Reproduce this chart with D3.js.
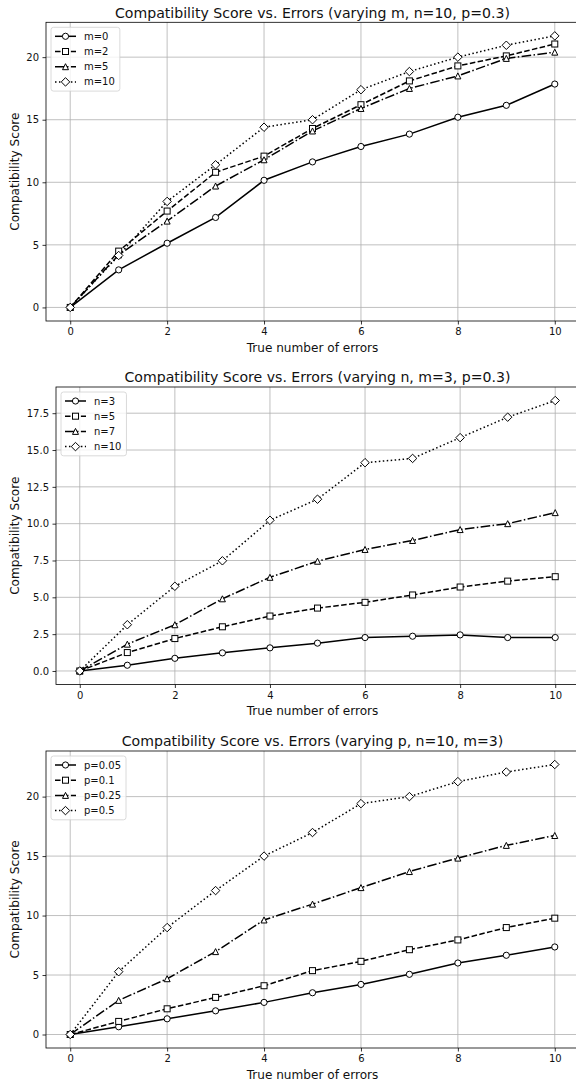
<!DOCTYPE html>
<html>
<head>
<meta charset="utf-8">
<script src="https://cdn.jsdelivr.net/npm/d3@7"></script>
<style>
  html, body { margin: 0; padding: 0; background: #fff; }
  svg { display: block; font-family: "DejaVu Sans", sans-serif; }
</style>
</head>
<body>
<svg id="chart" width="576" height="1082"></svg>
<script>
// ---------- data ----------
const errors = [0, 1, 2, 3, 4, 5, 6, 7, 8, 9, 10];

const titles = [
  "Compatibility Score vs. Errors (varying m, n=10, p=0.3)",
  "Compatibility Score vs. Errors (varying n, m=3, p=0.3)",
  "Compatibility Score vs. Errors (varying p, n=10, m=3)"
];
const xLabel = "True number of errors";
const yLabel = "Compatibility Score";
const xTicks = [0, 2, 4, 6, 8, 10];

// panel 1: varying m
const mLabels = ["m=0", "m=2", "m=5", "m=10"];
const m0  = [0, 3.0, 5.13, 7.19, 10.16, 11.63, 12.86, 13.85, 15.2, 16.15, 17.85];
const m2  = [0, 4.5, 7.7, 10.8, 12.09, 14.3, 16.2, 18.1, 19.3, 20.1, 21.05];
const m5  = [0, 4.2, 6.9, 9.7, 11.8, 14.1, 15.9, 17.5, 18.5, 19.9, 20.4];
const m10 = [0, 4.15, 8.47, 11.4, 14.4, 15.0, 17.4, 18.85, 20.0, 20.95, 21.7];
const yTicks1 = [0, 5, 10, 15, 20];

// panel 2: varying n
const nLabels = ["n=3", "n=5", "n=7", "n=10"];
const n3  = [0, 0.39, 0.86, 1.23, 1.57, 1.89, 2.27, 2.36, 2.45, 2.27, 2.27];
const n5  = [0, 1.25, 2.2, 3.0, 3.73, 4.27, 4.66, 5.16, 5.7, 6.1, 6.4];
const n7  = [0, 1.82, 3.14, 4.9, 6.36, 7.45, 8.25, 8.86, 9.6, 10.0, 10.75];
const n10 = [0, 3.14, 5.75, 7.48, 10.23, 11.66, 14.14, 14.43, 15.84, 17.23, 18.36];
const yTicks2 = [0, 2.5, 5, 7.5, 10, 12.5, 15, 17.5];

// panel 3: varying p
const pLabels = ["p=0.05", "p=0.1", "p=0.25", "p=0.5"];
const p005 = [0, 0.65, 1.32, 1.99, 2.7, 3.51, 4.21, 5.06, 6.01, 6.66, 7.36];
const p01  = [0, 1.1, 2.16, 3.12, 4.1, 5.37, 6.15, 7.13, 7.95, 8.99, 9.78];
const p025 = [0, 2.87, 4.69, 6.97, 9.63, 10.96, 12.35, 13.7, 14.83, 15.9, 16.73];
const p05  = [0, 5.28, 8.99, 12.1, 15.0, 16.98, 19.41, 20.0, 21.26, 22.07, 22.7];
const yTicks3 = [0, 5, 10, 15, 20];

// ---------- styling (not data) ----------
const markers = ["circle", "square", "triangle", "diamond"];
const dashes = [null, "5.55,2.4", "9.6,2.4,1.5,2.4", "1.5,2.475"];

const panels = [
  { title: titles[0], labels: mLabels, series: [m0, m2, m5, m10], yTicks: yTicks1, fmt: d3.format("d"),
    box: { left: 46, right: 579, top: 22.3, bottom: 321 } },
  { title: titles[1], labels: nLabels, series: [n3, n5, n7, n10], yTicks: yTicks2, fmt: d3.format(".1f"),
    box: { left: 56, right: 579, top: 387, bottom: 684.5 } },
  { title: titles[2], labels: pLabels, series: [p005, p01, p025, p05], yTicks: yTicks3, fmt: d3.format("d"),
    box: { left: 46, right: 579, top: 751, bottom: 1048 } }
];

const svg = d3.select("#chart");

function drawMarker(g, type, x, y) {
  const st = (sel) => sel.attr("fill", "#fff").attr("stroke", "#000").attr("stroke-width", 1);
  if (type === "circle") {
    st(g.append("circle").attr("cx", x).attr("cy", y).attr("r", 3.1));
  } else if (type === "square") {
    st(g.append("rect").attr("x", x - 3).attr("y", y - 3).attr("width", 6).attr("height", 6));
  } else if (type === "triangle") {
    st(g.append("path").attr("d", `M${x},${y - 3}L${x + 3},${y + 3}L${x - 3},${y + 3}Z`));
  } else if (type === "diamond") {
    const r = 4.24;
    st(g.append("path").attr("d", `M${x},${y - r}L${x + r},${y}L${x},${y + r}L${x - r},${y}Z`));
  }
}

panels.forEach((p) => {
  const b = p.box;
  const allMax = d3.max(p.series.flat());
  const allMin = d3.min(p.series.flat());
  const pad = (allMax - allMin) * 0.05;
  const x = d3.scaleLinear().domain([-0.5, 10.5]).range([b.left, b.right]);
  const y = d3.scaleLinear().domain([allMin - pad, allMax + pad]).range([b.bottom, b.top]);

  const g = svg.append("g");

  const clipId = "clip" + Math.round(b.top);
  svg.append("clipPath").attr("id", clipId)
    .append("rect").attr("x", b.left).attr("y", b.top).attr("width", b.right - b.left).attr("height", b.bottom - b.top);

  // grid
  const grid = g.append("g").attr("stroke", "#b0b0b0").attr("stroke-width", 0.8);
  xTicks.forEach(t => grid.append("line").attr("x1", x(t)).attr("x2", x(t)).attr("y1", b.top).attr("y2", b.bottom));
  p.yTicks.forEach(t => grid.append("line").attr("x1", b.left).attr("x2", b.right).attr("y1", y(t)).attr("y2", y(t)));

  // axes
  const xAxis = d3.axisBottom(x).tickValues(xTicks).tickSize(3.5).tickPadding(3.5).tickFormat(d3.format("d"));
  const ax = g.append("g").attr("transform", `translate(0,${b.bottom})`).call(xAxis);
  const yAxis = d3.axisLeft(y).tickValues(p.yTicks).tickSize(3.5).tickPadding(3.5).tickFormat(p.fmt);
  const ay = g.append("g").attr("transform", `translate(${b.left},0)`).call(yAxis);
  [ax, ay].forEach(a => {
    a.select(".domain").remove();
    a.selectAll(".tick line").attr("stroke", "#000").attr("stroke-width", 0.8);
    a.selectAll(".tick text").attr("fill", "#111").style("font-size", "10px").style("font-family", "DejaVu Sans");
  });

  // spines
  g.append("rect").attr("x", b.left).attr("y", b.top).attr("width", b.right - b.left).attr("height", b.bottom - b.top)
    .attr("fill", "none").attr("stroke", "#000").attr("stroke-width", 0.8);

  // series
  const plot = g.append("g").attr("clip-path", `url(#${clipId})`);
  const line = d3.line().x((d, i) => x(errors[i])).y(d => y(d));
  p.series.forEach((s, k) => {
    plot.append("path").datum(s).attr("d", line).attr("fill", "none").attr("stroke", "#000")
      .attr("stroke-width", 1.5).attr("stroke-dasharray", dashes[k]);
  });
  p.series.forEach((s, k) => {
    s.forEach((v, i) => drawMarker(plot, markers[k], x(errors[i]), y(v)));
  });

  // title
  g.append("text").attr("x", (b.left + b.right) / 2).attr("y", b.top - 4.8).attr("text-anchor", "middle")
    .style("font-size", "14.1px").attr("fill", "#111").text(p.title);
  // axis labels
  g.append("text").attr("x", 312.5).attr("y", b.bottom + 30.5).attr("text-anchor", "middle")
    .style("font-size", "12.1px").attr("fill", "#111").text(xLabel);
  g.append("text").attr("transform", `translate(19.2,${(b.top + b.bottom) / 2}) rotate(-90)`).attr("text-anchor", "middle")
    .style("font-size", "12.1px").attr("fill", "#111").text(yLabel);

  // legend
  const lg = g.append("g").attr("transform", `translate(${b.left + 5},${b.top + 5})`);
  const rowH = 15.2;
  const texts = [];
  const tg = lg.append("g");
  p.labels.forEach((lab, k) => {
    texts.push(tg.append("text").attr("x", 33).attr("y", 9 + k * rowH + 3.6).style("font-size", "10px")
      .attr("fill", "#111").text(lab));
  });
  const maxW = d3.max(texts, t => t.node().getComputedTextLength());
  lg.insert("rect", ":first-child").attr("x", 0).attr("y", 0).attr("width", 33 + maxW + 5).attr("height", 4 * rowH + 3)
    .attr("rx", 2.5).attr("fill", "#fff").attr("fill-opacity", 0.8).attr("stroke", "#d0d0d0").attr("stroke-width", 0.8);
  p.labels.forEach((lab, k) => {
    const yy = 9 + k * rowH;
    lg.append("line").attr("x1", 4).attr("x2", 25).attr("y1", yy).attr("y2", yy).attr("stroke", "#000")
      .attr("stroke-width", 1.5).attr("stroke-dasharray", dashes[k]);
    drawMarker(lg, markers[k], 14.5, yy);
  });
});
</script>
</body>
</html>
